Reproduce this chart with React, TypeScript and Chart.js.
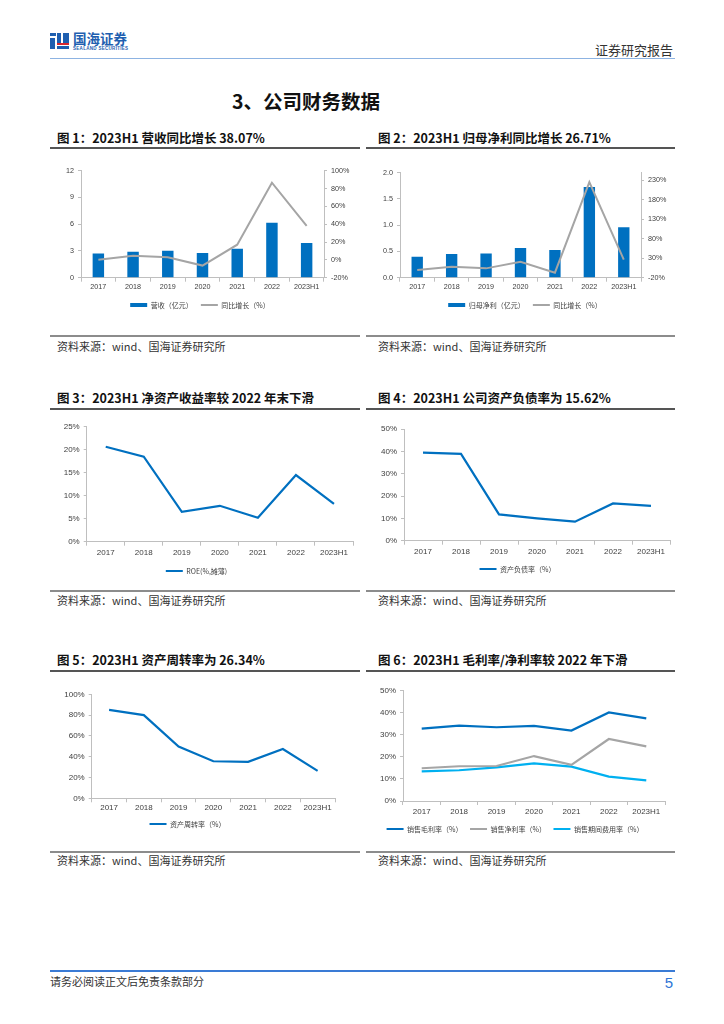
import React, { useEffect, useRef } from "react";
import { Chart, registerables } from "chart.js";
Chart.register(...registerables);

// ---------- data ----------
const years = ["2017", "2018", "2019", "2020", "2021", "2022", "2023H1"];
const revenue = [2.72, 2.92, 3.03, 2.78, 3.25, 6.17, 3.89];
const revenueYoY = [0.2, 4.5, 3.0, -6.4, 17.0, 86.5, 38.07];
const netProfit = [0.4, 0.45, 0.46, 0.565, 0.527, 1.73, 0.96];
const netProfitYoY = [-0.5, 8.0, 4.0, 21.0, -7.0, 226.0, 26.71];
const roe = [20.65, 18.5, 6.5, 7.8, 5.2, 14.5, 8.2];
const debtRatio = [39.4, 38.9, 11.8, 10.0, 8.5, 16.7, 15.62];
const assetTurnover = [85.0, 80.0, 49.7, 35.6, 35.0, 47.4, 26.34];
const grossMargin = [32.7, 34.0, 33.3, 33.9, 31.8, 40.0, 37.3];
const netMargin = [14.8, 15.7, 15.8, 20.3, 16.3, 28.0, 24.7];
const expenseRatio = [13.4, 13.9, 15.2, 17.0, 15.5, 11.0, 9.3];

const ticksRevenue = [0, 3, 6, 9, 12];
const ticksRevenueYoY = [-20, 0, 20, 40, 60, 80, 100];
const ticksProfit = [0, 0.5, 1.0, 1.5, 2.0];
const ticksProfitYoY = [-20, 30, 80, 130, 180, 230];
const ticksRoe = [0, 5, 10, 15, 20, 25];
const ticksDebt = [0, 10, 20, 30, 40, 50];
const ticksTurnover = [0, 20, 40, 60, 80, 100];
const ticksMargin = [0, 10, 20, 30, 40, 50];

// ---------- styles ----------
const BLUE = "#0070C0";
const GRAY = "#A5A5A5";
const LIGHT = "#00B0F0";
const AXIS = "#BFBFBF";
const TICK = "#404040";
const FONT = '"Liberation Sans", Arial, "Noto Sans CJK SC", sans-serif';
const CJK = '"Noto Sans CJK SC", "Liberation Sans", sans-serif';
const LEGEND_FONT = 7;

Chart.defaults.font.family = FONT;

type Layout = {
  left: number; top: number; width: number;
  plotLeft: number; plotRight: number; plotTop: number; plotBottom: number;
  xLabelY: number; legendY: number; tickSize: number;
  rightAxis: boolean;
};

function canvasHeight(L: Layout) {
  return Math.ceil(L.legendY - L.top + 10 + LEGEND_FONT / 2 + 3);
}

function yAxis(position: string, min: number, max: number, vals: number[], fmt: (v: number) => string, size: number, width: number) {
  return {
    type: "linear",
    position,
    min,
    max,
    afterBuildTicks: (s: any) => { s.ticks = vals.map((v) => ({ value: v })); },
    afterFit: (s: any) => { s.width = width; },
    grid: { drawOnChartArea: false, drawTicks: true, tickLength: 3, color: AXIS },
    border: { display: true, color: AXIS, width: 1 },
    ticks: { font: { size }, color: TICK, padding: 4, callback: (v: any) => fmt(Number(v)) },
  };
}

function makeConfig(L: Layout, H: number, datasets: any[], yLeft: any, yRight?: any) {
  const padBottom = H - (L.legendY - L.top) - 10 - LEGEND_FONT / 2;
  const hx = L.xLabelY - L.plotBottom + 0.6 * L.tickSize + 1.5;
  const legendGap = Math.max(2, L.legendY - L.plotBottom - LEGEND_FONT / 2 - hx);
  const xPad = L.xLabelY - L.plotBottom - 4 - 0.6 * L.tickSize;
  const rightW = L.left + L.width - L.plotRight;
  const scales: any = {
    x: {
      type: "category",
      labels: years,
      offset: true,
      grid: { offset: true, drawOnChartArea: false, drawTicks: true, tickLength: 4, color: AXIS },
      border: { display: true, color: AXIS, width: 1 },
      ticks: { font: { size: L.tickSize }, color: TICK, padding: xPad, maxRotation: 0, autoSkip: false },
      afterFit: (s: any) => { s.height = hx; },
    },
    y: yLeft,
  };
  if (yRight) scales.y1 = yRight;
  return {
    type: "bar",
    data: { labels: years, datasets },
    options: {
      animation: false,
      responsive: true,
      maintainAspectRatio: false,
      layout: {
        padding: { top: L.plotTop - L.top, bottom: padBottom, left: 0, right: L.rightAxis ? 0 : rightW },
      },
      scales,
      plugins: {
        tooltip: { enabled: false },
        legend: {
          position: "bottom",
          labels: {
            usePointStyle: true,
            pointStyleWidth: 17,
            boxHeight: 4,
            padding: legendGap,
            color: TICK,
            font: { size: LEGEND_FONT, family: CJK },
            sort: (a: any, b: any) => a.datasetIndex - b.datasetIndex,
            generateLabels: (chart: any) =>
              (Chart.defaults.plugins.legend.labels as any).generateLabels(chart).map((it: any) => ({
                ...it,
                pointStyle: chart.data.datasets[it.datasetIndex].pointStyle,
              })),
          },
        },
      },
    },
  };
}

function barSet(label: string, data: number[]) {
  return { type: "bar", label, data, backgroundColor: BLUE, borderWidth: 0, barPercentage: 0.33, categoryPercentage: 1, yAxisID: "y", order: 2, pointStyle: "rect" };
}
function lineSet(label: string, data: number[], color: string, axis = "y", width = 2) {
  return { type: "line", label, data, borderColor: color, backgroundColor: color, borderWidth: width, pointRadius: 0, tension: 0, yAxisID: axis, order: 1, pointStyle: "line", fill: false };
}

const pct = (v: number) => `${v}%`;

function ChartPanel({ L, build }: { L: Layout; build: (L: Layout, H: number) => any }) {
  const ref = useRef<HTMLCanvasElement | null>(null);
  const H = canvasHeight(L);
  useEffect(() => {
    const chart = new Chart(ref.current as HTMLCanvasElement, build(L, H) as any);
    return () => chart.destroy();
  }, []);
  return (
    <div style={{ position: "absolute", left: L.left, top: L.top, width: L.width, height: H }}>
      <canvas ref={ref} />
    </div>
  );
}

// ---------- layouts ----------
const L1: Layout = { left: 40, top: 155, width: 320, plotLeft: 81, plotRight: 324, plotTop: 170.7, plotBottom: 277.7, xLabelY: 287.5, legendY: 305, tickSize: 7.2, rightAxis: true };
const L2: Layout = { left: 365, top: 155, width: 320, plotLeft: 400, plotRight: 641, plotTop: 172.7, plotBottom: 277.7, xLabelY: 287.5, legendY: 305, tickSize: 7.2, rightAxis: true };
const L3: Layout = { left: 40, top: 415, width: 320, plotLeft: 86.7, plotRight: 353, plotTop: 426.7, plotBottom: 541.7, xLabelY: 553, legendY: 571, tickSize: 8, rightAxis: false };
const L4: Layout = { left: 365, top: 415, width: 320, plotLeft: 404, plotRight: 670, plotTop: 429, plotBottom: 540.7, xLabelY: 551.7, legendY: 569, tickSize: 8, rightAxis: false };
const L5: Layout = { left: 40, top: 677, width: 320, plotLeft: 91.7, plotRight: 335, plotTop: 694.3, plotBottom: 798.3, xLabelY: 808, legendY: 824, tickSize: 8, rightAxis: false };
const L6: Layout = { left: 365, top: 677, width: 320, plotLeft: 403, plotRight: 665, plotTop: 690.3, plotBottom: 801, xLabelY: 811.7, legendY: 829, tickSize: 8, rightAxis: false };

const build1 = (L: Layout, H: number) =>
  makeConfig(L, H,
    [barSet("营收（亿元）", revenue), lineSet("同比增长（%）", revenueYoY, GRAY, "y1")],
    yAxis("left", 0, 12, ticksRevenue, (v) => String(v), L.tickSize, L.plotLeft - L.left),
    yAxis("right", -20, 100, ticksRevenueYoY, pct, L.tickSize, L.left + L.width - L.plotRight));

const build2 = (L: Layout, H: number) =>
  makeConfig(L, H,
    [barSet("归母净利（亿元）", netProfit), lineSet("同比增长（%）", netProfitYoY, GRAY, "y1")],
    yAxis("left", 0, 2, ticksProfit, (v) => v.toFixed(1), L.tickSize, L.plotLeft - L.left),
    yAxis("right", -20, 250, ticksProfitYoY, pct, L.tickSize, L.left + L.width - L.plotRight));

const build3 = (L: Layout, H: number) =>
  makeConfig(L, H, [lineSet("ROE(%,摊薄)", roe, BLUE, "y", 2.2)],
    yAxis("left", 0, 25, ticksRoe, pct, L.tickSize, L.plotLeft - L.left));

const build4 = (L: Layout, H: number) =>
  makeConfig(L, H, [lineSet("资产负债率（%）", debtRatio, BLUE, "y", 2.2)],
    yAxis("left", 0, 50, ticksDebt, pct, L.tickSize, L.plotLeft - L.left));

const build5 = (L: Layout, H: number) =>
  makeConfig(L, H, [lineSet("资产周转率（%）", assetTurnover, BLUE, "y", 2.2)],
    yAxis("left", 0, 100, ticksTurnover, pct, L.tickSize, L.plotLeft - L.left));

const build6 = (L: Layout, H: number) =>
  makeConfig(L, H,
    [
      lineSet("销售毛利率（%）", grossMargin, BLUE, "y", 2.2),
      lineSet("销售净利率（%）", netMargin, GRAY, "y", 2.2),
      lineSet("销售期间费用率（%）", expenseRatio, LIGHT, "y", 2.2),
    ],
    yAxis("left", 0, 50, ticksMargin, pct, L.tickSize, L.plotLeft - L.left));

// ---------- page text helpers ----------
function Txt({ x, y, size, bold, color, right, children, family }: any) {
  const style: any = {
    position: "absolute",
    top: y - size * 0.7,
    height: size * 1.4,
    lineHeight: `${size * 1.4}px`,
    fontSize: size,
    fontWeight: bold ? 700 : 400,
    color: color || "#333",
    fontFamily: family || CJK,
    whiteSpace: "nowrap",
  };
  if (right !== undefined) style.right = 724 - right;
  else style.left = x;
  return <div style={style}>{children}</div>;
}

function HLine({ x1, x2, y, color, w }: any) {
  return <div style={{ position: "absolute", left: x1, top: y - w / 2, width: x2 - x1, height: w, background: color }} />;
}

function FigTitle({ x, y, children }: any) {
  return <Txt x={x} y={y} size={12.5} bold color="#111">{children}</Txt>;
}

function Source({ x, y }: any) {
  return <Txt x={x} y={y} size={11} color="#333">资料来源：wind、国海证券研究所</Txt>;
}

export default function App() {
  return (
    <div style={{ position: "absolute", left: 0, top: 0, width: 724, height: 1024, background: "#fff", overflow: "hidden" }}>
      {/* logo */}
      <div style={{ position: "absolute", left: 50, top: 33, width: 6, height: 3, background: "#1f5fb0" }} />
      <div style={{ position: "absolute", left: 57, top: 33, width: 4, height: 10, background: "#1f5fb0" }} />
      <div style={{ position: "absolute", left: 63, top: 33, width: 6, height: 10, background: "#1f5fb0" }} />
      <div style={{ position: "absolute", left: 50, top: 38, width: 5, height: 11, background: "#1f5fb0" }} />
      <div style={{ position: "absolute", left: 57, top: 43, width: 12, height: 2, background: "#d7262e" }} />
      <div style={{ position: "absolute", left: 57, top: 46, width: 12, height: 3, background: "#1f5fb0" }} />
      <Txt x={73} y={38.5} size={13.5} bold color="#1f5fb0">国海证券</Txt>
      <div style={{ position: "absolute", left: 73, top: 45.5, fontSize: 4.5, lineHeight: "5px", fontWeight: 700, color: "#1f5fb0", fontFamily: FONT, letterSpacing: 0.3, whiteSpace: "nowrap" }}>SEALAND SECURITIES</div>
      <Txt right={673} y={50} size={13} color="#333">证券研究报告</Txt>
      <HLine x1={50} x2={675} y={58.5} color="#8db3e2" w={1.5} />

      <Txt x={232} y={101} size={19.5} bold color="#111">3、公司财务数据</Txt>

      <FigTitle x={57} y={138}>图 1：2023H1 营收同比增长 38.07%</FigTitle>
      <FigTitle x={378} y={138}>图 2：2023H1 归母净利同比增长 26.71%</FigTitle>
      <HLine x1={50} x2={360} y={148} color="#555" w={1.3} />
      <HLine x1={366} x2={675} y={148} color="#555" w={1.3} />
      <ChartPanel L={L1} build={build1} />
      <ChartPanel L={L2} build={build2} />
      <HLine x1={50} x2={360} y={336} color="#8c8c8c" w={1.3} />
      <HLine x1={366} x2={675} y={336} color="#8c8c8c" w={1.3} />
      <Source x={57} y={347} />
      <Source x={378} y={347} />

      <FigTitle x={57} y={398}>图 3：2023H1 净资产收益率较 2022 年末下滑</FigTitle>
      <FigTitle x={378} y={398}>图 4：2023H1 公司资产负债率为 15.62%</FigTitle>
      <HLine x1={50} x2={360} y={409} color="#555" w={1.3} />
      <HLine x1={366} x2={675} y={409} color="#555" w={1.3} />
      <ChartPanel L={L3} build={build3} />
      <ChartPanel L={L4} build={build4} />
      <HLine x1={50} x2={360} y={591} color="#8c8c8c" w={1.3} />
      <HLine x1={366} x2={675} y={591} color="#8c8c8c" w={1.3} />
      <Source x={57} y={601} />
      <Source x={378} y={601} />

      <FigTitle x={57} y={660}>图 5：2023H1 资产周转率为 26.34%</FigTitle>
      <FigTitle x={378} y={660}>图 6：2023H1 毛利率/净利率较 2022 年下滑</FigTitle>
      <HLine x1={50} x2={360} y={671} color="#555" w={1.3} />
      <HLine x1={366} x2={675} y={671} color="#555" w={1.3} />
      <ChartPanel L={L5} build={build5} />
      <ChartPanel L={L6} build={build6} />
      <HLine x1={50} x2={360} y={852} color="#8c8c8c" w={1.3} />
      <HLine x1={366} x2={675} y={852} color="#8c8c8c" w={1.3} />
      <Source x={57} y={861} />
      <Source x={378} y={861} />

      <HLine x1={50} x2={675} y={971} color="#3a7bd5" w={1.5} />
      <Txt x={50} y={982} size={11} color="#333">请务必阅读正文后免责条款部分</Txt>
      <Txt right={673} y={982} size={15} color="#2e75d6" family={FONT}>5</Txt>
    </div>
  );
}
